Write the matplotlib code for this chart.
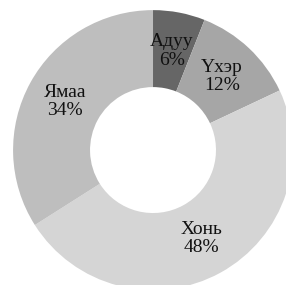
import matplotlib.pyplot as plt

# livestock share, clockwise from the top
names = ['Адуу', 'Үхэр', 'Хонь', 'Ямаа']
shares = [6, 12, 48, 34]
colors = ['#666666', '#a6a6a6', '#d5d5d5', '#bebebe']

fig = plt.figure(figsize=(2.86, 2.85), dpi=100)
ax = fig.add_axes([0.0455, -0.0175, 0.979, 0.982])

names_iter = iter(names)
wedges, texts, autotexts = ax.pie(
    shares, colors=colors, startangle=90, counterclock=False,
    wedgeprops=dict(width=0.55, linewidth=0),
    autopct=lambda p: f"{next(names_iter)}\n{p:.0f}%",
    pctdistance=0.72,
    textprops=dict(family='Liberation Serif', fontsize=14, color='#111111',
                   linespacing=1.1))
ax.set_xlim(-1, 1)
ax.set_ylim(-1, 1)
ax.set_aspect('equal')
ax.axis('off')

fig.savefig('out.png', dpi=100)
